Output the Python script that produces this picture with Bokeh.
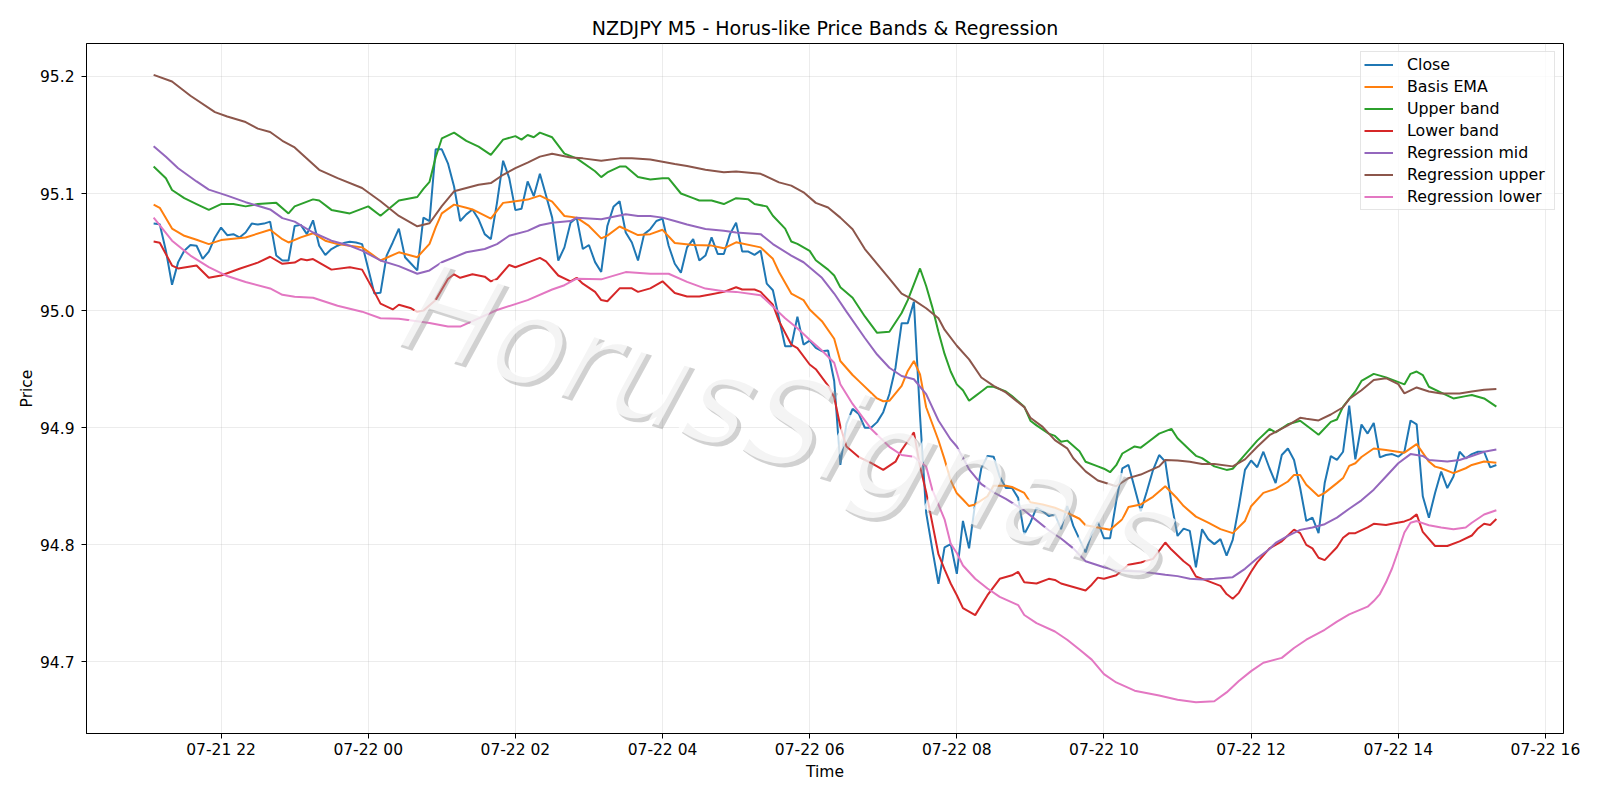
import pandas as pd
from bokeh.plotting import figure
from bokeh.models import (FixedTicker, DatetimeTickFormatter, Legend, LegendItem,
                          Label, Range1d, NumeralTickFormatter)
from bokeh.embed import file_html
from bokeh.resources import INLINE

# ---------------- data ----------------
start_time = "2025-07-21 21:05"
bar_minutes = 5

close = [
    95.0743, 95.0737, 95.0512, 95.0220, 95.0414, 95.0512, 95.0560, 95.0554, 95.0442, 95.0504,
    95.0625, 95.0709, 95.0644, 95.0653, 95.0625, 95.0667, 95.0743, 95.0735, 95.0743, 95.0760,
    95.0470, 95.0428, 95.0428, 95.0723, 95.0732, 95.0653, 95.0771, 95.0554, 95.0475, 95.0526,
    95.0554, 95.0577, 95.0588, 95.0582, 95.0568, 95.0357, 95.0146, 95.0152, 95.0470, 95.0582,
    95.0700, 95.0456, 95.0400, 95.0343, 95.0794, 95.0765, 95.1377, 95.1377, 95.1258, 95.1060,
    95.0765, 95.0822, 95.0864, 95.0780, 95.0653, 95.0610, 95.0920, 95.1280, 95.1131, 95.0858,
    95.0870, 95.1103, 95.0977, 95.1168, 95.0983, 95.0794, 95.0428, 95.0540, 95.0751, 95.0794,
    95.0526, 95.0560, 95.0414, 95.0330, 95.0723, 95.0886, 95.0934, 95.0667, 95.0582, 95.0428,
    95.0653, 95.0695, 95.0765, 95.0785, 95.0554, 95.0400, 95.0324, 95.0540, 95.0611, 95.0428,
    95.0470, 95.0625, 95.0484, 95.0484, 95.0653, 95.0751, 95.0504, 95.0504, 95.0476, 95.0512,
    95.0230, 95.0174, 94.9935, 94.9696, 94.9696, 94.9949, 94.9710, 94.9744, 94.9682, 94.9654,
    94.9660, 94.9399, 94.8682, 94.9034, 94.9161, 94.9118, 94.9000, 94.9000, 94.9048, 94.9133,
    94.9288, 94.9513, 94.9893, 94.9893, 95.0076, 94.9100, 94.8274, 94.7964, 94.7668, 94.7978,
    94.8007, 94.7753, 94.8204, 94.7970, 94.8359, 94.8655, 94.8759, 94.8753, 94.8584, 94.8486,
    94.8486, 94.8401, 94.8091, 94.8190, 94.8317, 94.8288, 94.8246, 94.8260, 94.8134, 94.8331,
    94.8162, 94.8049, 94.7936, 94.8100, 94.8195, 94.8057, 94.8057, 94.8372, 94.8653, 94.8682,
    94.8485, 94.8288, 94.8457, 94.8639, 94.8767, 94.8710, 94.8358, 94.8076, 94.8139, 94.8119,
    94.7809, 94.8133, 94.8049, 94.8006, 94.8049, 94.7908, 94.8043, 94.8329, 94.8640, 94.8720,
    94.8663, 94.8795, 94.8654, 94.8528, 94.8767, 94.8823, 94.8725, 94.8485, 94.8204, 94.8232,
    94.8100, 94.8528, 94.8758, 94.8725, 94.8795, 94.9189, 94.8730, 94.9028, 94.8950, 94.9040,
    94.8747, 94.8767, 94.8775, 94.8753, 94.8795, 94.9062, 94.9028, 94.8415, 94.8232, 94.8443,
    94.8626, 94.8485, 94.8584, 94.8795, 94.8738, 94.8775, 94.8795, 94.8795, 94.8662, 94.8682,
]

ema_idx = [0, 1, 3, 5, 7, 9, 11, 15, 19, 21, 22, 24, 26, 28, 30, 32, 34, 37, 40, 43, 45, 46, 47, 49,
           51, 52, 55, 57, 59, 61, 63, 65, 67, 69, 71, 73, 74, 76, 79, 81, 83, 85, 88, 91, 93, 95,
           99, 101, 102, 104, 106, 107, 109, 111, 112, 114, 115, 118, 119, 120, 122, 123, 124, 125,
           126, 128, 129, 130, 131, 132, 133, 134, 136, 137, 139, 140, 142, 143, 145, 147, 149, 151,
           152, 154, 156, 158, 159, 161, 163, 165, 167, 168, 170, 172, 174, 176, 178, 179, 181, 183,
           185, 186, 187, 188, 190, 191, 193, 194, 195, 196, 197, 199, 201, 204, 206, 208, 209, 210,
           212, 214, 215, 217, 219]
ema_val = [95.0906, 95.0878, 95.0701, 95.0639, 95.0605, 95.0568, 95.0602, 95.0625, 95.0690, 95.0610,
           95.0582, 95.0625, 95.0661, 95.0597, 95.0568, 95.0554, 95.0540, 95.0428, 95.0498, 95.0456,
           95.0570, 95.0710, 95.0830, 95.0905, 95.0878, 95.0864, 95.0785, 95.0920, 95.0934, 95.0948,
           95.0982, 95.0930, 95.0808, 95.0794, 95.0723, 95.0617, 95.0640, 95.0718, 95.0645, 95.0653,
           95.0690, 95.0577, 95.0560, 95.0555, 95.0532, 95.0583, 95.0540, 95.0442, 95.0330, 95.0146,
           95.0090, 95.0010, 94.9910, 94.9760, 94.9570, 94.9450, 94.9400, 94.9250, 94.9226, 94.9230,
           94.9358, 94.9485, 94.9570, 94.9456, 94.9175, 94.8893, 94.8730, 94.8550, 94.8440, 94.8387,
           94.8331, 94.8345, 94.8415, 94.8505, 94.8505, 94.8494, 94.8443, 94.8364, 94.8345, 94.8317,
           94.8274, 94.8223, 94.8167, 94.8149, 94.8129, 94.8219, 94.8323, 94.8345, 94.8410, 94.8500,
           94.8393, 94.8331, 94.8241, 94.8190, 94.8134, 94.8100, 94.8204, 94.8330, 94.8444, 94.8478,
           94.8541, 94.8597, 94.8597, 94.8513, 94.8415, 94.8444, 94.8527, 94.8570, 94.8674, 94.8697,
           94.8750, 94.8823, 94.8809, 94.8787, 94.8860, 94.8711, 94.8668, 94.8654, 94.8612, 94.8654,
           94.8682, 94.8711, 94.8702]

upper_idx = [0, 2, 3, 5, 7, 9, 11, 13, 15, 17, 20, 22, 23, 26, 27, 29, 32, 35, 37, 40, 43, 44, 45, 46,
             47, 49, 51, 53, 55, 57, 59, 60, 61, 62, 63, 65, 67, 69, 72, 73, 74, 76, 77, 79, 81, 83,
             84, 86, 88, 89, 91, 93, 95, 97, 98, 100, 101, 103, 104, 105, 107, 108, 110, 111, 112,
             114, 116, 118, 120, 122, 123, 125, 126, 127, 128, 129, 130, 131, 132, 133, 134, 135, 136,
             137, 139, 140, 142, 143, 144, 146, 147, 148, 149, 151, 152, 154, 155, 156, 157, 158, 160,
             161, 162, 164, 166, 167, 169, 170, 171, 173, 175, 176, 178, 180, 182, 183, 185, 187, 189,
             190, 192, 193, 194, 196, 197, 199, 201, 204, 205, 206, 207, 208, 210, 212, 214, 215, 217,
             219]
upper_val = [95.123, 95.113, 95.103, 95.096, 95.091, 95.086, 95.091, 95.091, 95.089, 95.091, 95.092,
             95.083, 95.089, 95.095, 95.094, 95.086, 95.083, 95.089, 95.081, 95.094, 95.097, 95.104,
             95.110, 95.131, 95.147, 95.152, 95.145, 95.140, 95.133, 95.146, 95.149, 95.146, 95.150,
             95.148, 95.152, 95.148, 95.134, 95.130, 95.119, 95.114, 95.118, 95.123, 95.123, 95.114,
             95.112, 95.113, 95.113, 95.100, 95.096, 95.094, 95.094, 95.091, 95.096, 95.095, 95.091,
             95.089, 95.081, 95.070, 95.059, 95.057, 95.051, 95.043, 95.035, 95.030, 95.020, 95.011,
             94.995, 94.981, 94.982, 94.998, 95.009, 95.036, 95.021, 95.003, 94.982, 94.963, 94.948,
             94.937, 94.932, 94.923, 94.927, 94.931, 94.935, 94.935, 94.931, 94.927, 94.918, 94.906,
             94.902, 94.895, 94.893, 94.888, 94.889, 94.880, 94.871, 94.867, 94.865, 94.862, 94.868,
             94.878, 94.884, 94.883, 94.887, 94.895, 94.899, 94.891, 94.881, 94.876, 94.874, 94.867,
             94.864, 94.865, 94.877, 94.889, 94.899, 94.896, 94.903, 94.906, 94.898, 94.894, 94.905,
             94.907, 94.918, 94.931, 94.940, 94.946, 94.943, 94.937, 94.946, 94.948, 94.945, 94.935,
             94.930, 94.925, 94.927, 94.928, 94.925, 94.918]

lower_idx = [0, 1, 3, 4, 7, 9, 11, 14, 17, 19, 21, 23, 24, 25, 26, 29, 32, 34, 36, 37, 39, 40, 42, 43,
             44, 46, 48, 49, 50, 52, 54, 55, 56, 58, 59, 61, 63, 64, 66, 68, 69, 70, 72, 73, 74, 76,
             78, 79, 81, 83, 85, 87, 89, 91, 93, 95, 96, 98, 99, 101, 102, 104, 105, 107, 108, 110,
             111, 112, 113, 115, 117, 119, 121, 122, 124, 125, 126, 128, 129, 130, 131, 132, 134, 136,
             138, 140, 141, 142, 144, 146, 147, 148, 150, 152, 153, 154, 155, 157, 159, 161, 163, 165,
             166, 168, 169, 170, 172, 174, 175, 176, 177, 179, 180, 182, 184, 186, 187, 188, 189, 190,
             191, 193, 194, 195, 196, 198, 199, 201, 202, 204, 205, 206, 207, 209, 211, 213, 215, 216,
             217, 218, 219]
lower_val = [95.059, 95.058, 95.0385, 95.036, 95.0385, 95.028, 95.030, 95.0357, 95.041, 95.046, 95.040,
             95.041, 95.044, 95.043, 95.044, 95.035, 95.037, 95.035, 95.016, 95.006, 95.001, 95.005,
             95.002, 94.999, 95.000, 95.009, 95.027, 95.031, 95.028, 95.031, 95.029, 95.025, 95.027,
             95.039, 95.037, 95.041, 95.045, 95.042, 95.030, 95.025, 95.028, 95.023, 95.016, 95.009,
             95.008, 95.019, 95.019, 95.016, 95.019, 95.025, 95.015, 95.012, 95.012, 95.014, 95.016,
             95.020, 95.018, 95.018, 95.016, 95.005, 94.991, 94.971, 94.968, 94.954, 94.950, 94.936,
             94.926, 94.901, 94.884, 94.875, 94.870, 94.864, 94.871, 94.881, 94.896, 94.867, 94.845,
             94.792, 94.779, 94.767, 94.757, 94.746, 94.740, 94.757, 94.771, 94.774, 94.777, 94.768,
             94.767, 94.771, 94.770, 94.767, 94.764, 94.761, 94.766, 94.772, 94.771, 94.774, 94.783,
             94.785, 94.788, 94.802, 94.796, 94.786, 94.782, 94.773, 94.769, 94.765, 94.758, 94.754,
             94.759, 94.777, 94.785, 94.797, 94.803, 94.813, 94.810, 94.800, 94.797, 94.789, 94.787,
             94.798, 94.806, 94.810, 94.810, 94.815, 94.818, 94.817, 94.818, 94.820, 94.822, 94.826,
             94.811, 94.799, 94.799, 94.803, 94.808, 94.814, 94.818, 94.817, 94.822]

rmid_idx = [0, 2, 4, 7, 9, 12, 15, 19, 21, 23, 26, 29, 32, 34, 37, 40, 43, 45, 47, 51, 54, 56, 58, 61,
            63, 65, 68, 69, 73, 77, 79, 81, 83, 85, 87, 90, 93, 95, 99, 101, 104, 106, 109, 111, 113,
            116, 118, 120, 122, 124, 126, 128, 130, 131, 133, 135, 137, 139, 142, 144, 146, 148, 150,
            152, 155, 157, 161, 165, 167, 169, 171, 173, 175, 176, 178, 180, 182, 183, 185, 187, 189,
            191, 193, 195, 197, 199, 201, 203, 205, 207, 208, 211, 213, 215, 217, 219]
rmid_val = [95.1404, 95.1314, 95.1216, 95.1103, 95.1033, 95.0982, 95.0926, 95.0864, 95.0790, 95.0760,
            95.0667, 95.0597, 95.0554, 95.0512, 95.0428, 95.0380, 95.0315, 95.0343, 95.0413, 95.0498,
            95.0526, 95.0568, 95.0639, 95.0681, 95.0729, 95.0751, 95.0765, 95.0794, 95.0780, 95.0822,
            95.0808, 95.0808, 95.0794, 95.0765, 95.0735, 95.0697, 95.0681, 95.0667, 95.0653, 95.0568,
            95.0470, 95.0413, 95.0280, 95.0146, 94.9991, 94.9766, 94.9625, 94.9512, 94.9442, 94.9414,
            94.9287, 94.9062, 94.8900, 94.8840, 94.8645, 94.8518, 94.8448, 94.8392, 94.8294, 94.8209,
            94.8125, 94.8054, 94.7970, 94.7860, 94.7809, 94.7781, 94.7773, 94.7744, 94.7733, 94.7710,
            94.7705, 94.7710, 94.7720, 94.7724, 94.7795, 94.7885, 94.7965, 94.8016, 94.8077, 94.8128,
            94.8148, 94.8176, 94.8232, 94.8308, 94.8380, 94.8471, 94.8584, 94.8697, 94.8775, 94.8759,
            94.8725, 94.8711, 94.8725, 94.8759, 94.8795, 94.8815]

rup_idx = [0, 3, 6, 10, 12, 15, 17, 19, 21, 23, 27, 30, 34, 37, 40, 43, 45, 47, 49, 53, 55, 57, 59, 61,
           63, 65, 68, 70, 73, 76, 78, 81, 83, 85, 87, 90, 93, 95, 99, 102, 104, 106, 108, 110, 112,
           114, 116, 118, 120, 122, 124, 126, 128, 129, 131, 133, 135, 137, 139, 142, 143, 145, 147,
           149, 150, 152, 154, 157, 159, 161, 164, 165, 167, 169, 171, 173, 176, 178, 180, 182, 185,
           187, 188, 190, 192, 194, 195, 197, 199, 201, 203, 204, 206, 208, 210, 213, 215, 217, 219]
rup_val = [95.2013, 95.1956, 95.1835, 95.1695, 95.1658, 95.1610, 95.1554, 95.1525, 95.1450, 95.1393,
           95.1202, 95.1131, 95.1047, 95.0934, 95.0808, 95.0720, 95.0746, 95.0892, 95.1019, 95.1075,
           95.1089, 95.1160, 95.1216, 95.1264, 95.1315, 95.1340, 95.1308, 95.1300, 95.1280, 95.1300,
           95.1300, 95.1291, 95.1272, 95.1252, 95.1235, 95.1202, 95.1182, 95.1188, 95.1168, 95.1095,
           95.1067, 95.1010, 95.0920, 95.0880, 95.0794, 95.0695, 95.0526, 95.0399, 95.0273, 95.0146,
           95.0090, 95.0020, 94.9935, 94.9837, 94.9700, 94.9584, 94.9429, 94.9358, 94.9302, 94.9176,
           94.9085, 94.9007, 94.8894, 94.8824, 94.8739, 94.8627, 94.8550, 94.8500, 94.8570, 94.8600,
           94.8670, 94.8725, 94.8720, 94.8710, 94.8690, 94.8690, 94.8670, 94.8730, 94.8837, 94.8936,
           94.9020, 94.9085, 94.9076, 94.9062, 94.9113, 94.9175, 94.9245, 94.9320, 94.9408, 94.9423,
           94.9372, 94.9293, 94.9344, 94.9310, 94.9293, 94.9293, 94.9310, 94.9324, 94.9330]

rlow_idx = [0, 3, 6, 9, 12, 15, 19, 21, 23, 26, 30, 34, 37, 40, 43, 45, 48, 50, 53, 56, 61, 65, 67, 69,
            73, 77, 81, 84, 87, 90, 93, 95, 99, 101, 103, 105, 107, 109, 111, 112, 114, 117, 120, 122,
            124, 126, 127, 129, 130, 131, 132, 134, 136, 138, 141, 142, 144, 147, 149, 151, 153, 155,
            157, 160, 164, 167, 170, 173, 175, 177, 179, 181, 184, 186, 188, 191, 193, 195, 198, 199,
            200, 201, 202, 203, 204, 205, 206, 208, 210, 212, 214, 215, 217, 219]
rlow_val = [95.0794, 95.0597, 95.0470, 95.0371, 95.0295, 95.0245, 95.0189, 95.0135, 95.0118, 95.0110,
            95.0042, 94.9991, 94.9935, 94.9930, 94.9910, 94.9895, 94.9864, 94.9864, 94.9934, 95.0005,
            95.0090, 95.0180, 95.0217, 95.0273, 95.0267, 95.0329, 95.0315, 95.0315, 95.0245, 95.0188,
            95.0166, 95.0160, 95.0132, 95.0034, 94.9935, 94.9850, 94.9752, 94.9660, 94.9555, 94.9372,
            94.9203, 94.8992, 94.8837, 94.8767, 94.8753, 94.8668, 94.8471, 94.8218, 94.8010, 94.7930,
            94.7824, 94.7711, 94.7627, 94.7556, 94.7486, 94.7401, 94.7331, 94.7260, 94.7190, 94.7106,
            94.7020, 94.6896, 94.6825, 94.6755, 94.6713, 94.6677, 94.6657, 94.6665, 94.6740, 94.6838,
            94.6922, 94.6993, 94.7035, 94.7119, 94.7190, 94.7275, 94.7345, 94.7407, 94.7472, 94.7520,
            94.7580, 94.7680, 94.7800, 94.7950, 94.8105, 94.8189, 94.8203, 94.8167, 94.8148, 94.8134,
            94.8148, 94.8189, 94.8259, 94.8296]

tick_hours = ["2025-07-21 22:00", "2025-07-22 00:00", "2025-07-22 02:00", "2025-07-22 04:00",
              "2025-07-22 06:00", "2025-07-22 08:00", "2025-07-22 10:00", "2025-07-22 12:00",
              "2025-07-22 14:00", "2025-07-22 16:00"]
price_ticks = [94.7, 94.8, 94.9, 95.0, 95.1, 95.2]

# ---------------- helpers ----------------
EPOCH = pd.Timestamp("1970-01-01")
t0 = pd.Timestamp(start_time)


def to_ms(ts):
    return (ts - EPOCH) / pd.Timedelta(milliseconds=1)


def bar_times(idx):
    return [to_ms(t0 + pd.Timedelta(minutes=bar_minutes * i)) for i in idx]


n = len(close)
close_x = bar_times(range(n))
span = close_x[-1] - close_x[0]
pad = 0.05 * span
ymin_data = min(rlow_val + close)
ymax_data = max(rup_val + close)
ypad = 0.05 * (ymax_data - ymin_data)

FONT = "DejaVu Sans"
TICK_FS = "15.5px"

p = figure(width=1600, height=800, x_axis_type="datetime", output_backend="svg",
           toolbar_location=None,
           x_range=Range1d(close_x[0] - pad, close_x[-1] + pad),
           y_range=Range1d(ymin_data - ypad, ymax_data + ypad),
           title="NZDJPY M5 - Horus-like Price Bands & Regression")
p.min_border_left = 86
p.min_border_right = 37
p.min_border_top = 43
p.min_border_bottom = 67
p.background_fill_color = "white"
p.border_fill_color = "white"
p.outline_line_color = "black"
p.outline_line_width = 1

p.title.align = "center"
p.title.text_font = FONT
p.title.text_font_size = "19px"
p.title.text_font_style = "normal"
p.title.text_color = "black"
p.title.standoff = 10

for g in (p.xgrid, p.ygrid):
    g.grid_line_color = "#b0b0b0"
    g.grid_line_alpha = 0.3
    g.grid_line_width = 0.8

p.xaxis.ticker = FixedTicker(ticks=[to_ms(pd.Timestamp(s)) for s in tick_hours])
p.xaxis.formatter = DatetimeTickFormatter(hours="%m-%d %H", hourmin="%m-%d %H",
                                          days="%m-%d %H", minutes="%m-%d %H")
p.yaxis.ticker = FixedTicker(ticks=price_ticks)
p.yaxis.formatter = NumeralTickFormatter(format="0.0")

for ax in (p.xaxis, p.yaxis):
    ax.axis_line_color = "black"
    ax.major_tick_line_color = "black"
    ax.major_tick_out = 5
    ax.major_tick_in = 0
    ax.minor_tick_out = 0
    ax.minor_tick_in = 0
    ax.major_label_text_font = FONT
    ax.major_label_text_font_size = TICK_FS
    ax.major_label_text_color = "black"
    ax.axis_label_text_font = FONT
    ax.axis_label_text_font_size = TICK_FS
    ax.axis_label_text_font_style = "normal"
    ax.axis_label_text_color = "black"
p.xaxis.axis_label = "Time"
p.yaxis.axis_label = "Price"
p.xaxis.major_label_standoff = 2
p.yaxis.major_label_standoff = 7
p.xaxis.axis_label_standoff = 1
p.yaxis.axis_label_standoff = 1

series = [
    ("Close", close_x, close, "#1f77b4"),
    ("Basis EMA", bar_times(ema_idx), ema_val, "#ff7f0e"),
    ("Upper band", bar_times(upper_idx), upper_val, "#2ca02c"),
    ("Lower band", bar_times(lower_idx), lower_val, "#d62728"),
    ("Regression mid", bar_times(rmid_idx), rmid_val, "#9467bd"),
    ("Regression upper", bar_times(rup_idx), rup_val, "#8c564b"),
    ("Regression lower", bar_times(rlow_idx), rlow_val, "#e377c2"),
]

items = []
for name, xs, ys, col in series:
    r = p.line(xs, ys, line_color=col, line_width=2)
    items.append(LegendItem(label=name, renderers=[r]))

# watermark
wm_x = to_ms(pd.Timestamp("2025-07-22 05:43"))
wm_y = 94.905
for dx, dy, col, alpha in [(4, -4, "#9a9a9a", 0.45), (0, 0, "#ffffff", 0.75)]:
    p.add_layout(Label(x=wm_x, y=wm_y, text="HorusSignals", angle=-0.305,
                       x_offset=dx, y_offset=dy,
                       text_font=FONT, text_font_size="123px", text_font_style="italic",
                       text_color=col, text_alpha=alpha,
                       text_align="center", text_baseline="middle"))

legend = Legend(items=items, location="top_right")
legend.label_text_font = FONT
legend.label_text_font_size = "15.8px"
legend.label_text_color = "black"
legend.glyph_width = 29
legend.glyph_height = 19
legend.label_height = 19
legend.label_width = 144
legend.label_standoff = 14
legend.spacing = 3
legend.padding = 3
legend.margin = 8
legend.border_line_color = "#cccccc"
legend.border_line_width = 1
legend.background_fill_color = "white"
legend.background_fill_alpha = 0.8
p.add_layout(legend)

open("out.html", "w").write(file_html(p, INLINE))
